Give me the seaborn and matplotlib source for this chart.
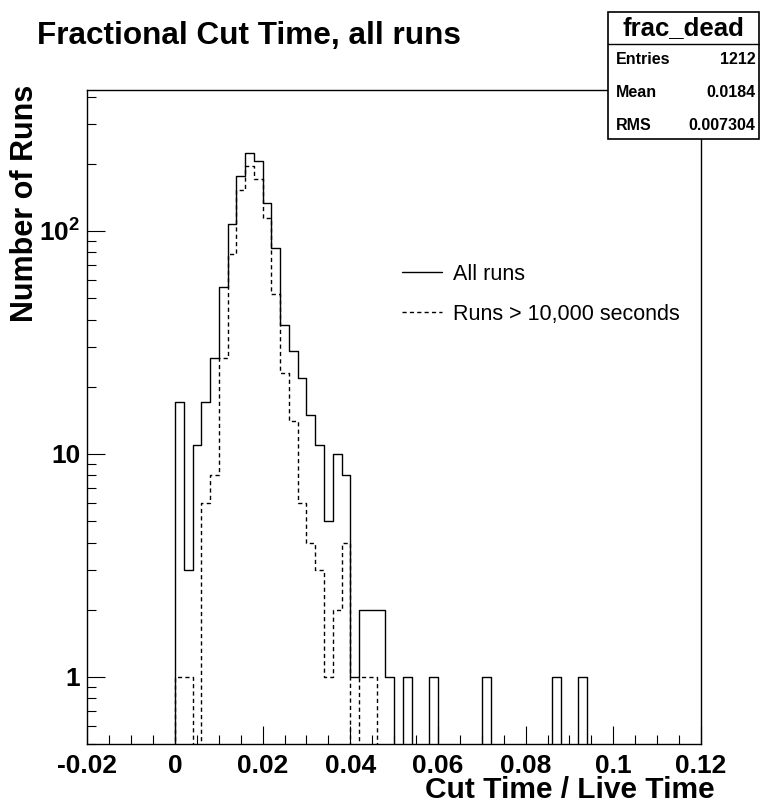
import numpy as np
import pandas as pd
import matplotlib
matplotlib.use("Agg")
import matplotlib.pyplot as plt
import seaborn as sns
from matplotlib.lines import Line2D
from matplotlib.patches import Rectangle
from matplotlib.ticker import MultipleLocator, LogLocator, FixedLocator, FuncFormatter, NullFormatter

# ---------------- data ----------------
n_bins = 70
x_range = (-0.02, 0.12)

all_runs = [
    0, 0, 0, 0, 0, 0, 0, 0, 0, 0,
    17, 3, 11, 17, 27, 56, 107, 177, 223, 205,
    134, 84, 38, 29, 22, 15, 11, 5, 10, 8,
    1, 2, 2, 2, 1, 0, 1, 0, 0, 1,
    0, 0, 0, 0, 0, 1, 0, 0, 0, 0,
    0, 0, 0, 1, 0, 0, 1, 0, 0, 0,
    0, 0, 0, 0, 0, 0, 0, 0, 0, 0,
]
long_runs = [
    0, 0, 0, 0, 0, 0, 0, 0, 0, 0,
    1, 1, 0, 6, 8, 27, 79, 152, 195, 170,
    114, 52, 23, 14, 6, 4, 3, 1, 2, 4,
    0, 1, 1, 0, 0, 0, 0, 0, 0, 0,
    0, 0, 0, 0, 0, 0, 0, 0, 0, 0,
    0, 0, 0, 0, 0, 0, 0, 0, 0, 0,
    0, 0, 0, 0, 0, 0, 0, 0, 0, 0,
]
series_labels = ["All runs", "Runs > 10,000 seconds"]
stats_name = "frac_dead"
stats_keys = ["Entries", "Mean", "RMS"]
stats_vals = ["1212", "0.0184", "0.007304"]
x_ticks = [-0.02, 0.0, 0.02, 0.04, 0.06, 0.08, 0.1, 0.12]
y_ticks = [1, 10, 100]

# ---------------- style ----------------
sns.set_style("white")
plt.rcParams["font.family"] = ["Liberation Sans", "DejaVu Sans"]
plt.rcParams["font.weight"] = "bold"
plt.rcParams["mathtext.fontset"] = "custom"
plt.rcParams["mathtext.rm"] = "Liberation Sans"
plt.rcParams["mathtext.bf"] = "Liberation Sans:bold"
for key in ["text.color", "axes.labelcolor", "xtick.color", "ytick.color",
            "xtick.labelcolor", "ytick.labelcolor", "axes.edgecolor"]:
    plt.rcParams[key] = "black"

W, H = 760, 806
fig = plt.figure(figsize=(W / 100, H / 100), dpi=100)
fig.patch.set_facecolor("white")

ax_l, ax_r, ax_t, ax_b = 87.3, 701.0, 89.6, 744.0
ax = fig.add_axes([ax_l / W, 1 - ax_b / H, (ax_r - ax_l) / W, (ax_b - ax_t) / H])
ax.set_facecolor("white")

edges = np.linspace(x_range[0], x_range[1], n_bins + 1)
centers = (edges[:-1] + edges[1:]) / 2
df = pd.DataFrame({"center": centers, "all": np.array(all_runs, float),
                   "long": np.array(long_runs, float)})

dash = (0, (3.0, 2.3))
sns.histplot(data=df, x="center", weights="all", bins=n_bins, binrange=x_range,
             element="step", fill=False, color="black", linewidth=1.0, ax=ax)
sns.histplot(data=df, x="center", weights="long", bins=n_bins, binrange=x_range,
             element="step", fill=False, color="black", linewidth=1.0,
             linestyle=dash, ax=ax)

ax.set_yscale("log")
ax.set_xlim(x_range)
ax.set_ylim(0.5, 430)
ax.set_xlabel("")
ax.set_ylabel("")

for s in ax.spines.values():
    s.set_visible(True)
    s.set_color("black")
    s.set_linewidth(1.0)

ax.xaxis.set_major_locator(FixedLocator(x_ticks))
ax.xaxis.set_minor_locator(MultipleLocator(0.005))
ax.xaxis.set_major_formatter(FuncFormatter(lambda v, p: f"{round(v, 3) + 0.0:g}"))
ax.yaxis.set_major_locator(FixedLocator(y_ticks))
ax.yaxis.set_minor_locator(LogLocator(base=10, subs=np.arange(2, 10)))
ax.yaxis.set_minor_formatter(NullFormatter())


def yfmt(v, p):
    if abs(v - 100) < 1e-6:
        return r"$\mathbf{10^{2}}$"
    return f"{v:g}"


ax.yaxis.set_major_formatter(FuncFormatter(yfmt))
ax.tick_params(axis="both", which="major", direction="in", length=13, width=0.8,
               top=False, right=False, bottom=True, left=True, labelsize=19, pad=7,
               color="black", labelcolor="black")
ax.tick_params(axis="both", which="minor", direction="in", length=6.5, width=0.8,
               top=False, right=False, bottom=True, left=True, color="black")
ax.tick_params(axis="y", which="major", pad=5)

# legend
handles = [Line2D([], [], color="black", lw=1.0),
           Line2D([], [], color="black", lw=1.0, linestyle=dash)]
leg = ax.legend(handles, series_labels, loc="upper left",
                bbox_to_anchor=(402 / W, 1 - 264 / H), bbox_transform=fig.transFigure,
                frameon=False, prop={"size": 15.5, "weight": "normal"},
                handlelength=1.85, handletextpad=0.5, labelspacing=0.86,
                borderpad=0, borderaxespad=0)
for t in leg.get_texts():
    t.set_color("black")

# titles
fig.text(37 / W, 1 - 36 / H, "Fractional Cut Time, all runs", ha="left", va="center",
         fontsize=22.7, fontweight="bold")
fig.text(25 / W, 1 - 85 / H, "Number of Runs", rotation=90, ha="center", va="top",
         fontsize=22, fontweight="bold")
fig.text(715 / W, 1 - 790 / H, "Cut Time / Live Time", ha="right", va="center",
         fontsize=21.5, fontweight="bold")

# stats box
bx0, bx1, by0, by1, bdiv = 608.3, 759.0, 12.3, 139.0, 44.0
fig.patches.append(Rectangle((bx0 / W, 1 - by1 / H), (bx1 - bx0) / W, (by1 - by0) / H,
                             transform=fig.transFigure, facecolor="white",
                             edgecolor="black", linewidth=1.2, zorder=10))
fig.add_artist(Line2D([bx0 / W, bx1 / W], [1 - bdiv / H, 1 - bdiv / H],
                      transform=fig.transFigure, color="black", lw=1.0, zorder=11))
fig.text((bx0 + bx1) / 2 / W, 1 - 28 / H, stats_name, ha="center", va="center",
         fontsize=18.5, fontweight="bold", zorder=12)
row_y = [59.5, 92.5, 125.5]
for k, v, yy in zip(stats_keys, stats_vals, row_y):
    fig.text(616 / W, 1 - yy / H, k, ha="left", va="center", fontsize=11.5,
             fontweight="bold", zorder=12)
    fig.text(755.5 / W, 1 - yy / H, v, ha="right", va="center", fontsize=11.5,
             fontweight="bold", zorder=12)

fig.savefig("out.png", dpi=100, facecolor="white")
